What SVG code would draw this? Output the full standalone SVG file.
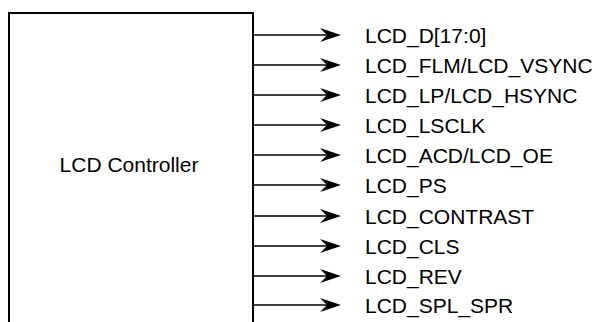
<svg xmlns="http://www.w3.org/2000/svg" width="598" height="322" viewBox="0 0 598 322">
<style>
.box{fill:#fff;stroke:#000;stroke-width:2}
.ln{stroke:#000;stroke-width:1.6;fill:none}
.ah{fill:#000}
text{font-family:"Liberation Sans",Arial,sans-serif;font-size:21px;fill:#000}
</style>
<defs>
<path id="head" class="ah" d="M0,0 L-21,-7 L-14,0 L-21,7 Z"/>
</defs>
<rect width="598" height="322" fill="#fff"/>
<g id="controller">
<path class="box" d="M9,330 L9,13 L253,13 L253,330"/>
<text x="129" y="172" text-anchor="middle">LCD Controller</text>
</g>
<g id="connectors">
<line class="ln" x1="254" y1="35" x2="330" y2="35"/><use href="#head" x="341" y="35"/>
<line class="ln" x1="254" y1="65" x2="330" y2="65"/><use href="#head" x="341" y="65"/>
<line class="ln" x1="254" y1="95" x2="330" y2="95"/><use href="#head" x="341" y="95"/>
<line class="ln" x1="254" y1="125" x2="330" y2="125"/><use href="#head" x="341" y="125"/>
<line class="ln" x1="254" y1="155" x2="330" y2="155"/><use href="#head" x="341" y="155"/>
<line class="ln" x1="254" y1="185" x2="330" y2="185"/><use href="#head" x="341" y="185"/>
<line class="ln" x1="254" y1="216" x2="330" y2="216"/><use href="#head" x="341" y="216"/>
<line class="ln" x1="254" y1="246" x2="330" y2="246"/><use href="#head" x="341" y="246"/>
<line class="ln" x1="254" y1="276" x2="330" y2="276"/><use href="#head" x="341" y="276"/>
<line class="ln" x1="254" y1="305" x2="330" y2="305"/><use href="#head" x="341" y="305"/>
</g>
<g id="labels">
<text x="365" y="43">LCD_D[17:0]</text>
<text x="365" y="73">LCD_FLM/LCD_VSYNC</text>
<text x="365" y="103">LCD_LP/LCD_HSYNC</text>
<text x="365" y="133">LCD_LSCLK</text>
<text x="365" y="163">LCD_ACD/LCD_OE</text>
<text x="365" y="193">LCD_PS</text>
<text x="365" y="224">LCD_CONTRAST</text>
<text x="365" y="254">LCD_CLS</text>
<text x="365" y="284">LCD_REV</text>
<text x="365" y="313">LCD_SPL_SPR</text>
</g>
</svg>
